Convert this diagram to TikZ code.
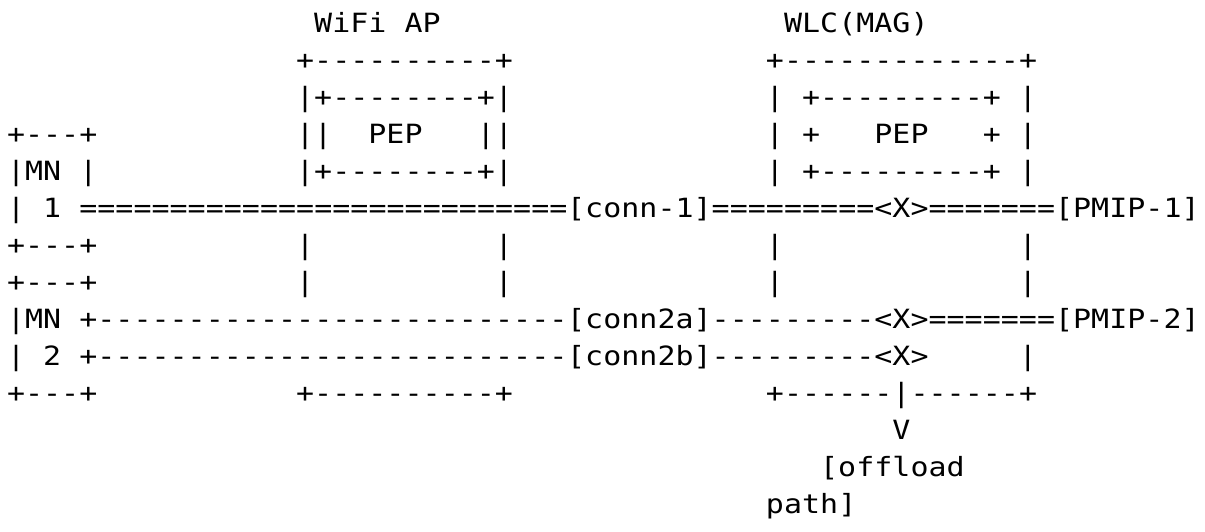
\documentclass[tikz,border=0pt]{standalone}
\usepackage{fontspec}
\setmonofont[FakeStretch=1.13, LetterSpace=0.2]{DejaVu Sans Mono}

\tikzset{
	ascii/.style={anchor=base west, inner sep=0pt, outer sep=0pt,
		font=\ttfamily\fontsize{13.25pt}{18.5pt}\selectfont},
}

\begin{document}
\begin{tikzpicture}[x=9.035pt, y=-18.5pt]
	\useasboundingbox (-3.5pt,16.3pt) rectangle (599pt,-249.2pt);

	% Titles
	\node [ascii] (apname)   at (17,0) {WiFi};
	\node [ascii] (apname2)  at (22,0) {AP};
	\node [ascii] (wlcname)  at (43,0) {WLC(MAG)};

	% Box tops
	\node [ascii] (aptop)    at (16,1) {+----------+};
	\node [ascii] (wlctop)   at (42,1) {+-------------+};

	% PEP boxes
	\node [ascii] (appeptop) at (16,2) {|+--------+|};
	\node [ascii] (wlcl2)    at (42,2) {|};
	\node [ascii] (wlcpeptop) at (44,2) {+---------+};
	\node [ascii] (wlcr2)    at (56,2) {|};

	\node [ascii] (mn1top)   at (0,3)  {+---+};
	\node [ascii] (apl3)     at (16,3) {||};
	\node [ascii] (appep)    at (20,3) {PEP};
	\node [ascii] (apr3)     at (26,3) {||};
	\node [ascii] (wlcl3)    at (42,3) {|};
	\node [ascii] (wlcpepl)  at (44,3) {+};
	\node [ascii] (wlcpep)   at (48,3) {PEP};
	\node [ascii] (wlcpepr)  at (54,3) {+};
	\node [ascii] (wlcr3)    at (56,3) {|};

	\node [ascii] (mn1name)  at (0,4)  {|MN};
	\node [ascii] (mn1r4)    at (4,4)  {|};
	\node [ascii] (appepbot) at (16,4) {|+--------+|};
	\node [ascii] (wlcl4)    at (42,4) {|};
	\node [ascii] (wlcpepbot) at (44,4) {+---------+};
	\node [ascii] (wlcr4)    at (56,4) {|};

	% Connection 1
	\node [ascii] (mn1l5)    at (0,5)  {|};
	\node [ascii] (mn1num)   at (2,5)  {1};
	\node [ascii] (c1a)      at (4,5)  {===========================};
	\node [ascii] (conn1)    at (31,5) {[conn-1]};
	\node [ascii] (c1b)      at (39,5) {=========};
	\node [ascii] (x1)       at (48,5) {<X>};
	\node [ascii] (c1c)      at (51,5) {=======};
	\node [ascii] (pmip1)    at (58,5) {[PMIP-1]};

	% Box sides
	\foreach \r in {6,7} {
		\node [ascii] (mnbox-\r) at (0,\r) {+---+};
		\foreach \c in {16,27,42,56}
			\node [ascii] (bar-\c-\r) at (\c,\r) {|};
	}

	% Connections 2a, 2b
	\node [ascii] (mn2name)  at (0,8)  {|MN};
	\node [ascii] (c2aa)     at (4,8)  {+--------------------------};
	\node [ascii] (conn2a)   at (31,8) {[conn2a]};
	\node [ascii] (c2ab)     at (39,8) {---------};
	\node [ascii] (x2a)      at (48,8) {<X>};
	\node [ascii] (c2ac)     at (51,8) {=======};
	\node [ascii] (pmip2)    at (58,8) {[PMIP-2]};

	\node [ascii] (mn2l9)    at (0,9)  {|};
	\node [ascii] (mn2num)   at (2,9)  {2};
	\node [ascii] (c2ba)     at (4,9)  {+--------------------------};
	\node [ascii] (conn2b)   at (31,9) {[conn2b]};
	\node [ascii] (c2bb)     at (39,9) {---------};
	\node [ascii] (x2b)      at (48,9) {<X>};
	\node [ascii] (wlcr9)    at (56,9) {|};

	% Box bottoms
	\node [ascii] (mn2bot)   at (0,10)  {+---+};
	\node [ascii] (apbot)    at (16,10) {+----------+};
	\node [ascii] (wlcbot)   at (42,10) {+------|------+};

	% Offload path
	\node [ascii] (arrow)    at (49,11) {V};
	\node [ascii] (offload)  at (45,12) {[offload};
	\node [ascii] (path)     at (42,13) {path]};

\end{tikzpicture}
\end{document}
